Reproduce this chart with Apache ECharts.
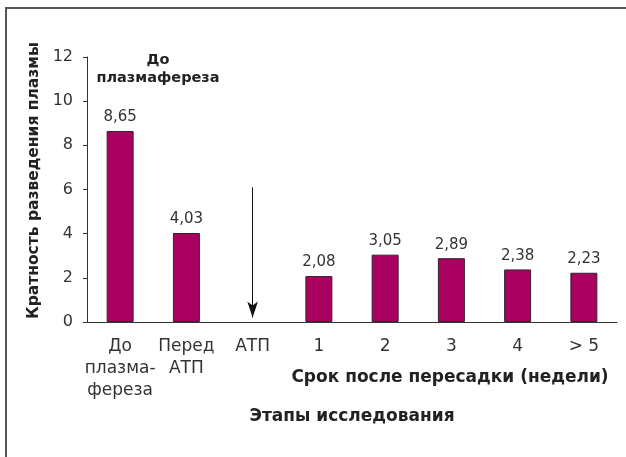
<!DOCTYPE html>
<html><head><meta charset="utf-8">
<script src="https://cdn.jsdelivr.net/npm/echarts@6/dist/echarts.min.js"></script>
<style>html,body{margin:0;padding:0;background:#fff}#c{width:626px;height:457px}</style>
</head><body><div id="c"></div>
<script>
const categories = ['До\nплазма-\nфереза', 'Перед\nАТП', 'АТП', '1', '2', '3', '4', '> 5'];
const values = [8.65, 4.03, null, 2.08, 3.05, 2.89, 2.38, 2.23];
const valueLabels = ['8,65', '4,03', '', '2,08', '3,05', '2,89', '2,38', '2,23'];
const yTicks = [0, 2, 4, 6, 8, 10, 12];
const arrowFrom = 6.1, arrowTo = 0.2;
const yName = 'Кратность разведения плазмы';
const xName = 'Этапы исследования';
const subName = 'Срок после пересадки (недели)';
const note = 'До\nплазмафереза';

const FONT = '"DejaVu Sans", "Liberation Sans", Arial, sans-serif';
const chart = echarts.init(document.getElementById('c'), null, {renderer: 'canvas'});
chart.setOption({
  animation: false,
  backgroundColor: '#fff',
  grid: {left: 87, right: 9, top: 57, bottom: 135},
  xAxis: {
    type: 'category', data: categories,
    axisLine: {lineStyle: {color: '#333', width: 1}},
    axisTick: {show: false},
    axisLabel: {color: '#333', fontSize: 17, fontFamily: FONT, lineHeight: 22, margin: 14, interval: 0},
    name: xName, nameLocation: 'middle', nameGap: 86,
    nameTextStyle: {color: '#222', fontSize: 17, fontWeight: 'bold', fontFamily: FONT}
  },
  yAxis: {
    type: 'value', min: yTicks[0], max: yTicks[yTicks.length - 1], interval: 2,
    splitLine: {show: false},
    axisLine: {show: true, lineStyle: {color: '#333', width: 1}},
    axisTick: {show: true, length: 4, lineStyle: {color: '#333'}},
    axisLabel: {color: '#333', fontSize: 16, fontFamily: FONT, margin: 14},
    name: yName, nameLocation: 'middle', nameGap: 42, nameRotate: 90,
    nameTextStyle: {color: '#222', fontSize: 15.5, fontWeight: 'bold', fontFamily: FONT, padding: [0, 0, 0, 18]}
  },
  series: [{
    type: 'bar', data: values, barWidth: 27,
    itemStyle: {color: '#aa0060', borderColor: '#3a2030', borderWidth: 1},
    label: {show: true, position: 'top', distance: 6, color: '#333', fontSize: 15, fontFamily: FONT,
      formatter: p => valueLabels[p.dataIndex]},
    markLine: {
      silent: true, symbol: ['none', 'arrow'], symbolSize: [8, 16],
      label: {show: false},
      lineStyle: {color: '#111', width: 1, type: 'solid'},
      data: [[{coord: [categories[2], arrowFrom]}, {coord: [categories[2], arrowTo]}]]
    }
  }],
  graphic: [
    {type: 'polyline', shape: {points: [[6, 457], [6, 8], [626, 8]]}, style: {stroke: '#555', lineWidth: 2, fill: null}},
    {type: 'text', x: 158, y: 69, style: {text: note, fill: '#222', font: 'bold 14.5px ' + FONT, align: 'center', verticalAlign: 'middle', lineHeight: 18}},
    {type: 'text', x: 450, y: 378, style: {text: subName, fill: '#222', font: 'bold 17px ' + FONT, align: 'center', verticalAlign: 'middle'}}
  ]
});
</script></body></html>
